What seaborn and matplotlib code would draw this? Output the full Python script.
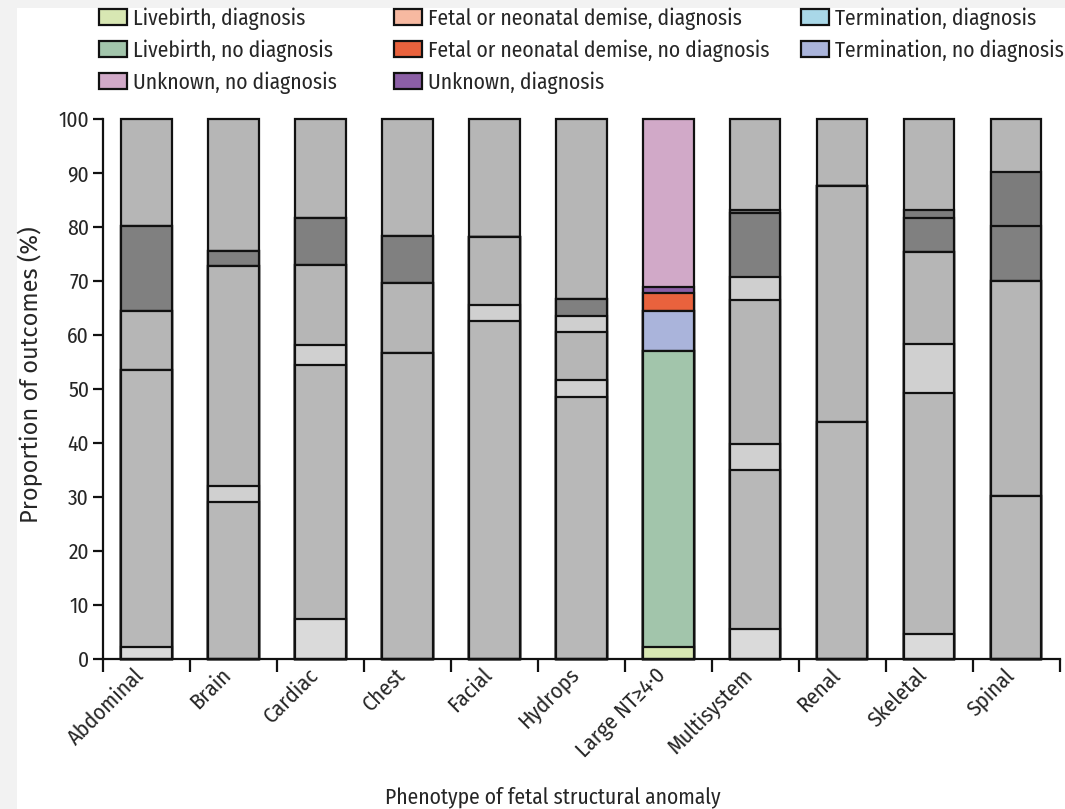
import matplotlib
matplotlib.use("Agg")
import matplotlib.pyplot as plt
import matplotlib.font_manager as fm
from matplotlib.patches import Patch, Rectangle
from matplotlib.transforms import ScaledTranslation
import seaborn as sns
import pandas as pd
import numpy as np

phenotypes = ["Abdominal", "Brain", "Cardiac", "Chest", "Facial", "Hydrops",
              "Large NT≥4·0", "Multisystem", "Renal", "Skeletal", "Spinal"]
highlight = "Large NT≥4·0"

outcomes = ["Livebirth, diagnosis", "Livebirth, no diagnosis",
            "Termination, diagnosis", "Termination, no diagnosis",
            "Fetal or neonatal demise, diagnosis", "Fetal or neonatal demise, no diagnosis",
            "Unknown, diagnosis", "Unknown, no diagnosis"]

livebirth_diag    = [2.3, 0.0, 7.4, 0.0, 0.0, 0.0, 2.3, 5.6, 0.0, 4.6, 0.0]
livebirth_nodiag  = [51.2, 29.1, 47.1, 56.6, 62.6, 48.6, 54.8, 29.4, 43.8, 44.7, 30.1]
termination_diag  = [0.0, 2.9, 3.7, 0.0, 3.0, 3.0, 0.0, 4.9, 0.0, 9.1, 0.0]
termination_nodiag = [11.0, 40.7, 14.8, 13.0, 12.6, 9.0, 7.4, 26.6, 43.8, 17.0, 39.9]
demise_diag       = [0.0, 0.0, 0.0, 0.0, 0.0, 3.0, 0.0, 4.2, 0.0, 0.0, 0.0]
demise_nodiag     = [15.7, 2.8, 8.7, 8.7, 0.0, 3.1, 3.3, 11.9, 0.0, 6.3, 10.1]
unknown_diag      = [0.0, 0.0, 0.0, 0.0, 0.0, 0.0, 1.1, 0.5, 0.0, 1.5, 10.0]
unknown_nodiag    = [19.8, 24.5, 18.3, 21.7, 21.8, 33.3, 31.1, 16.9, 12.4, 16.8, 9.9]

series = [livebirth_diag, livebirth_nodiag, termination_diag, termination_nodiag,
          demise_diag, demise_nodiag, unknown_diag, unknown_nodiag]

colors = ["#d8e7b3", "#a2c5ab", "#a9d8e8", "#aab4db",
          "#f7b9a1", "#e9623d", "#8c5fa6", "#d1a9c8"]
greys = ["#dadada", "#b8b8b8", "#d0d0d0", "#b6b6b6",
         "#cfcfcf", "#808080", "#7c7c7c", "#b6b6b6"]

avail = {f.name for f in fm.fontManager.ttflist}
fam = "DejaVu Sans"
for cand in ["Fira Sans Condensed", "PT Sans Narrow", "Asap Condensed",
             "Archivo Narrow", "Barlow Semi Condensed", "Liberation Sans Narrow"]:
    if cand in avail:
        fam = cand
        break
fam_reg = "Fira Sans" if "Fira Sans" in avail else fam

sns.set_style("white")
plt.rcParams["font.family"] = [fam, "DejaVu Sans"]
FS = 15.5

fig = plt.figure(figsize=(10.65, 8.09), dpi=100)
fig.patch.set_facecolor("#f2f2f2")
fig.add_artist(Rectangle((17 / 1065, 0), 1, 1 - 8 / 809, transform=fig.transFigure,
                         facecolor="white", edgecolor="none", zorder=-10))

ax = fig.add_axes([0.0967, 0.1854, 0.8983, 0.6676])
ax.patch.set_alpha(0)

cum = np.cumsum(np.array(series), axis=0)
for k in range(len(outcomes) - 1, -1, -1):
    df = pd.DataFrame({"phenotype": phenotypes, "value": cum[k]})
    pal = {p: (colors[k] if p == highlight else greys[k]) for p in phenotypes}
    sns.barplot(data=df, x="phenotype", y="value", hue="phenotype", palette=pal,
                legend=False, width=0.58, edgecolor="#111111", linewidth=1.6,
                saturation=1, ax=ax, order=phenotypes, hue_order=phenotypes)

for p in ax.patches:
    p.set_clip_on(False)

ax.set_xlim(-0.5, len(phenotypes) - 0.5)
ax.set_ylim(0, 100)
ax.set_yticks(np.arange(0, 101, 10))
ax.set_xticks(np.arange(len(phenotypes)))
ax.set_xticklabels(phenotypes, rotation=45, ha="right", rotation_mode="anchor",
                   fontsize=16)
ax.set_xticks(np.arange(-0.5, len(phenotypes)), minor=True)
ax.tick_params(axis="x", which="major", length=0, pad=6)
ax.tick_params(axis="x", which="minor", length=9, width=1.6, color="#111111",
               direction="out", bottom=True)
ax.tick_params(axis="y", which="major", length=7, width=1.6, color="#111111",
               direction="out", labelsize=FS, pad=3, left=True)
shift = ScaledTranslation(-13 / 100, 3 / 100, fig.dpi_scale_trans)
for lab in ax.get_xticklabels():
    lab.set_transform(lab.get_transform() + shift)

for s in ["top", "right"]:
    ax.spines[s].set_visible(False)
for s in ["left", "bottom"]:
    ax.spines[s].set_linewidth(1.6)
    ax.spines[s].set_color("#111111")

ax.set_xlabel("Phenotype of fetal structural anomaly", fontsize=FS)
ax.xaxis.set_label_coords(0.47, -0.236)
ax.set_ylabel("Proportion of outcomes (%)", fontsize=17, family=[fam_reg, "DejaVu Sans"])
ax.yaxis.set_label_coords(-0.063, 0.526)

cols = [[0, 1, 7], [4, 5, 6], [2, 3]]
xs = [99 / 1065, 394 / 1065, 801 / 1065]
for xi, col in zip(xs, cols):
    handles = [Patch(facecolor=colors[i], edgecolor="#111111", linewidth=1.6,
                     label=outcomes[i]) for i in col]
    fig.legend(handles=handles, loc="upper left", bbox_to_anchor=(xi, 1 - 7 / 809),
               frameon=False, fontsize=FS, handlelength=1.3, handleheight=0.75,
               handletextpad=0.3, labelspacing=0.45, borderaxespad=0.0,
               borderpad=0.0)

fig.savefig("out.png", dpi=100, facecolor=fig.get_facecolor())
